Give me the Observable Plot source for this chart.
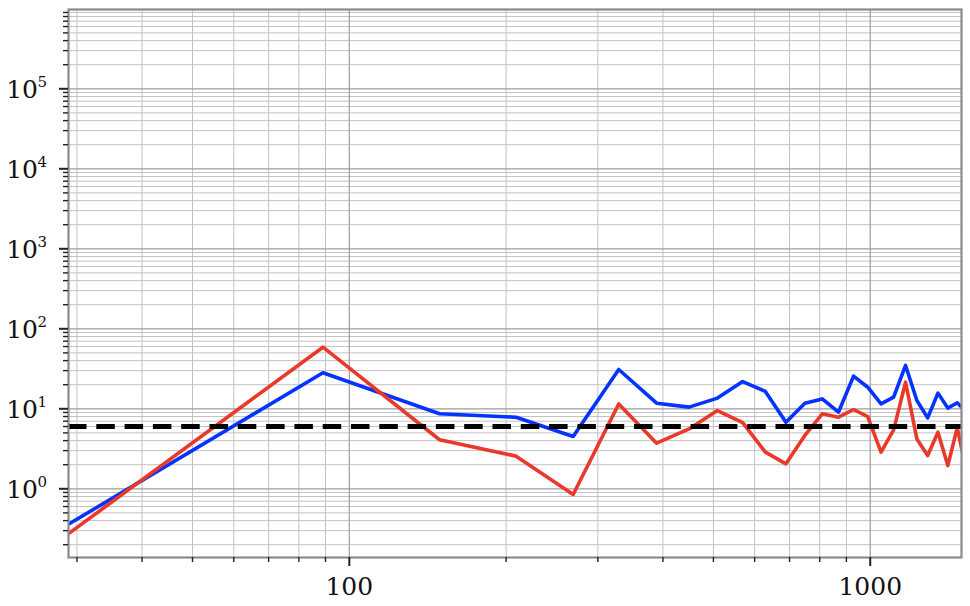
<!DOCTYPE html>
<html>
<head>
<meta charset="utf-8">
<script src="https://cdn.jsdelivr.net/npm/d3@7"></script>
<script src="https://cdn.jsdelivr.net/npm/@observablehq/plot@0.6"></script>
<style>
  html, body { margin: 0; padding: 0; background: #fff; }
  #chart { width: 970px; height: 606px; }
</style>
</head>
<body>
<div id="chart"></div>
<script>
// Data
const xs    = [29, 89, 149, 209, 269, 329, 389, 449, 509, 569, 629, 689, 749, 809, 869, 929, 989, 1049, 1109, 1169, 1229, 1289, 1349, 1409, 1469, 1529];
const blue  = [0.365, 28.2, 8.66, 7.85, 4.5, 31, 11.75, 10.5, 13.6, 21.9, 16.5, 6.8, 11.75, 13.3, 9.07, 25.6, 18.6, 11.5, 14, 34.8, 12.7, 7.7, 15.7, 10.2, 11.9, 9.2];
const red   = [0.279, 58.9, 4.1, 2.56, 0.85, 11.5, 3.72, 5.6, 9.5, 6.7, 2.87, 2.05, 4.64, 8.66, 7.86, 9.8, 8.0, 2.87, 5.46, 21.5, 4.2, 2.6, 5.1, 1.95, 5.8, 1.7];
const threshold = 6;

// Axis ticks and labels
const xMajor = [100, 1000];
const xLabels = ["100", "1000"];
const yMajor = [1, 10, 100, 1000, 10000, 100000];
const yBase = ["10", "10", "10", "10", "10", "10"];
const yExp = ["0", "1", "2", "3", "4", "5"];

const xDomain = [28.9, 1497];
const yDomain = [0.1384, 9.8e5];

const minors = (lo, hi) => {
  const out = [];
  for (let e = Math.floor(Math.log10(lo)); e <= Math.ceil(Math.log10(hi)); e++) {
    for (let k = 2; k <= 9; k++) {
      const v = k * Math.pow(10, e);
      if (v >= lo && v <= hi) out.push(v);
    }
  }
  return out;
};
const xMinor = minors(xDomain[0], xDomain[1]);
const yMinor = minors(yDomain[0], yDomain[1]);

const data = xs.map((x, i) => ({x, blue: blue[i], red: red[i]}));

const font = "DejaVu Serif";

const chart = Plot.plot({
  width: 970,
  height: 606,
  marginLeft: 68,
  marginRight: 9,
  marginTop: 9,
  marginBottom: 49,
  style: {background: "#fff", fontFamily: font},
  x: {type: "log", domain: xDomain},
  y: {type: "log", domain: yDomain},
  marks: [
    Plot.gridX(xMinor, {stroke: "#c2c2c2", strokeOpacity: 1, strokeWidth: 1}),
    Plot.gridY(yMinor, {stroke: "#c2c2c2", strokeOpacity: 1, strokeWidth: 1}),
    Plot.gridX(xMajor, {stroke: "#9c9c9c", strokeOpacity: 1, strokeWidth: 1.2}),
    Plot.gridY(yMajor, {stroke: "#9c9c9c", strokeOpacity: 1, strokeWidth: 1.2}),
    Plot.lineY(data, {x: "x", y: "blue", stroke: "#0433ff", strokeWidth: 3.6, clip: true}),
    Plot.lineY(data, {x: "x", y: "red", stroke: "#e8392b", strokeWidth: 3.6, clip: true}),
    Plot.ruleY([threshold], {stroke: "#000", strokeWidth: 5, strokeDasharray: "18.5,9.8"}),
    Plot.frame({stroke: "#8a8a8a", strokeWidth: 2.2}),
    Plot.axisY(yMajor, {tickSize: 9, tickFormat: () => "", stroke: "#222", strokeWidth: 2, label: null}),
    Plot.axisY(yMinor, {tickSize: 5, tickFormat: () => "", stroke: "#222", strokeWidth: 1.4, label: null}),
    Plot.axisX(xMajor, {tickSize: 9, tickFormat: () => "", stroke: "#222", strokeWidth: 2, label: null}),
    Plot.axisX(xMinor, {tickSize: 5, tickFormat: () => "", stroke: "#222", strokeWidth: 1.4, label: null}),
    Plot.text(yMajor, {y: d => d, frameAnchor: "left", text: (d, i) => yBase[i], textAnchor: "end", dx: -30.5, dy: 1, fontSize: 25, fill: "#111", fontFamily: font}),
    Plot.text(yMajor, {y: d => d, frameAnchor: "left", text: (d, i) => yExp[i], textAnchor: "start", dx: -31, dy: -7, fontSize: 15, fill: "#111", fontFamily: font}),
    Plot.text(xMajor, {x: d => d, frameAnchor: "bottom", text: (d, i) => xLabels[i], lineAnchor: "top", dy: 20, fontSize: 25, fill: "#111", fontFamily: font})
  ]
});
document.getElementById("chart").appendChild(chart);
</script>
</body>
</html>
